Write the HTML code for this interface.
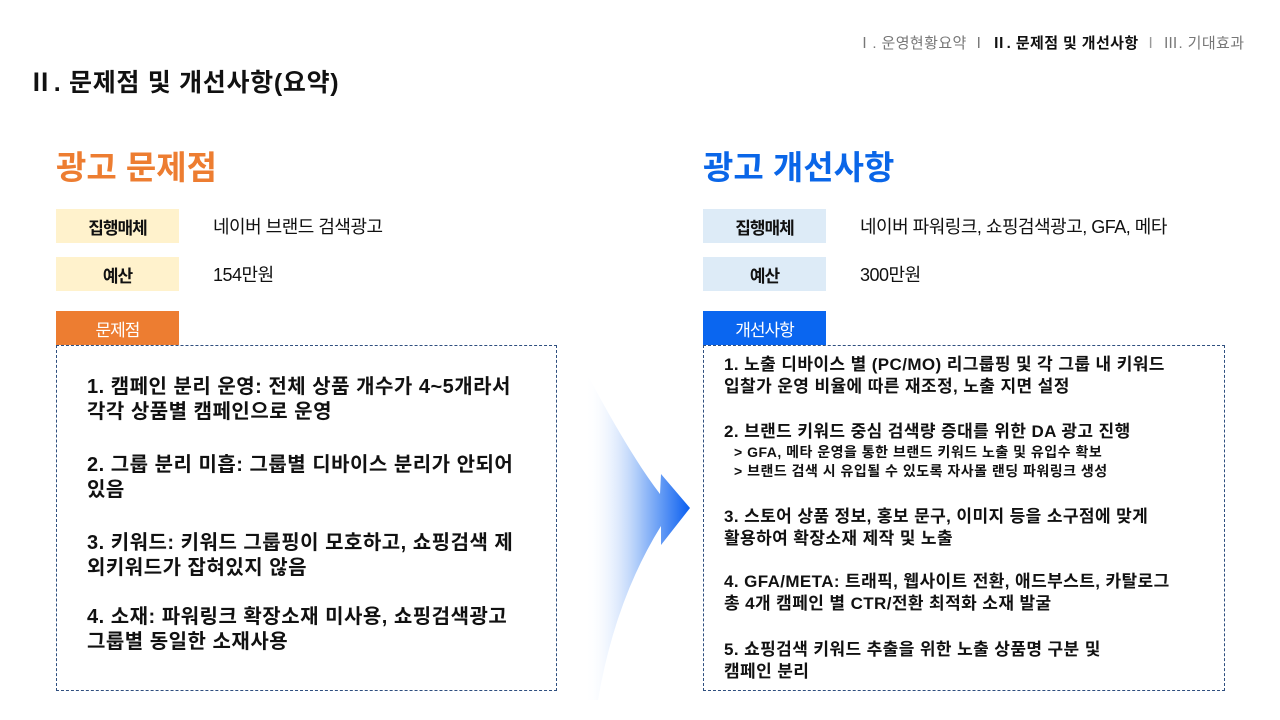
<!DOCTYPE html>
<html><head><meta charset="utf-8"><style>
*{margin:0;padding:0;box-sizing:border-box}
body{width:1280px;height:720px;background:#fff;position:relative;overflow:hidden;font-family:"Liberation Sans","Noto Sans CJK KR",sans-serif;color:#111}
.a{position:absolute;white-space:nowrap}
.lab{position:absolute;width:123px;height:34px;display:flex;align-items:center;justify-content:center;font-size:17px;font-weight:bold;letter-spacing:-1px}
.box{position:absolute;border:1px dashed #2f4f7f}
.l{position:absolute;font-weight:bold;white-space:nowrap}
</style></head><body>
<svg class="a" style="left:0;top:0" width="1280" height="720">
<defs><linearGradient id="g" x1="585" x2="690" y1="0" y2="0" gradientUnits="userSpaceOnUse">
<stop offset="0" stop-color="#fff" stop-opacity="0"/><stop offset="0.55" stop-color="#9cc0f8"/><stop offset="1" stop-color="#0a5ff0"/></linearGradient></defs>
<path d="M586 372 Q630 455 660 494 L661 474 L690 508 L661 545 L661 526 Q615 600 598 700 L586 700 Z" fill="url(#g)"/>
</svg>
<div class="a" style="left:857px;top:32px;font-size:15px;color:#777;letter-spacing:0.4px">Ⅰ. 운영현황요약 Ⅰ <b style="color:#111">Ⅱ. 문제점 및 개선사항</b> <span style="color:#999">Ⅰ</span> Ⅲ. 기대효과</div>
<div class="a" style="left:28px;top:63px;font-size:25px;font-weight:bold;letter-spacing:0.7px">Ⅱ. 문제점 및 개선사항(요약)</div>

<div class="a" style="left:56px;top:141px;font-size:33px;font-weight:bold;color:#ED7D31">광고 문제점</div>
<div class="a" style="left:703px;top:141px;font-size:33px;font-weight:bold;color:#0a66e8">광고 개선사항</div>

<div class="lab" style="left:56px;top:209px;background:#FFF2CC">집행매체</div>
<div class="lab" style="left:56px;top:257px;background:#FFF2CC">예산</div>
<div class="lab" style="left:56px;top:311px;background:#ED7D31;color:#fff;font-weight:normal">문제점</div>
<div class="a" style="left:213px;top:213px;font-size:18px;letter-spacing:-0.5px">네이버 브랜드 검색광고</div>
<div class="a" style="left:213px;top:261px;font-size:18px;letter-spacing:-0.5px">154만원</div>

<div class="lab" style="left:703px;top:209px;background:#DDEBF7">집행매체</div>
<div class="lab" style="left:703px;top:257px;background:#DDEBF7">예산</div>
<div class="lab" style="left:703px;top:311px;background:#0a66f0;color:#fff;font-weight:normal">개선사항</div>
<div class="a" style="left:860px;top:213px;font-size:18px;letter-spacing:-0.5px">네이버 파워링크, 쇼핑검색광고, GFA, 메타</div>
<div class="a" style="left:860px;top:261px;font-size:18px;letter-spacing:-0.5px">300만원</div>

<div class="box" style="left:56px;top:345px;width:501px;height:346px"></div>
<div class="box" style="left:703px;top:345px;width:522px;height:346px"></div>

<div class="l" style="left:87px;top:375px;font-size:20px;line-height:25px;letter-spacing:0.5px">1. 캠페인 분리 운영: 전체 상품 개수가 4~5개라서<br>각각 상품별 캠페인으로 운영</div>
<div class="l" style="left:87px;top:453px;font-size:20px;line-height:25px;letter-spacing:0.5px">2. 그룹 분리 미흡: 그룹별 디바이스 분리가 안되어<br>있음</div>
<div class="l" style="left:87px;top:531px;font-size:20px;line-height:25px;letter-spacing:0.5px">3. 키워드: 키워드 그룹핑이 모호하고, 쇼핑검색 제<br>외키워드가 잡혀있지 않음</div>
<div class="l" style="left:87px;top:605px;font-size:20px;line-height:25px;letter-spacing:0.5px">4. 소재: 파워링크 확장소재 미사용, 쇼핑검색광고<br>그룹별 동일한 소재사용</div>

<div class="l" style="left:724px;top:354px;font-size:17px;line-height:22px;letter-spacing:0.4px">1. 노출 디바이스 별 (PC/MO)  리그룹핑 및 각 그룹 내 키워드<br>입찰가 운영 비율에 따른  재조정, 노출 지면 설정</div>
<div class="l" style="left:724px;top:421px;font-size:17px;line-height:22px;letter-spacing:0.4px">2. 브랜드 키워드 중심 검색량 증대를 위한 DA 광고 진행</div>
<div class="l" style="left:734px;top:443px;font-size:14px;line-height:19px;letter-spacing:0.5px">&gt; GFA, 메타 운영을 통한 브랜드 키워드 노출 및 유입수 확보<br>&gt; 브랜드 검색 시 유입될 수 있도록 자사몰 랜딩 파워링크 생성</div>
<div class="l" style="left:724px;top:506px;font-size:17px;line-height:22px;letter-spacing:0.4px">3. 스토어 상품 정보, 홍보 문구, 이미지 등을 소구점에 맞게<br>활용하여 확장소재 제작 및 노출</div>
<div class="l" style="left:724px;top:571px;font-size:17px;line-height:22px;letter-spacing:0.4px">4. GFA/META: 트래픽, 웹사이트 전환, 애드부스트, 카탈로그<br>총 4개 캠페인 별 CTR/전환 최적화 소재 발굴</div>
<div class="l" style="left:724px;top:639px;font-size:17px;line-height:22px;letter-spacing:0.4px">5. 쇼핑검색 키워드 추출을 위한 노출 상품명 구분 및<br>캠페인 분리</div>
</body></html>
